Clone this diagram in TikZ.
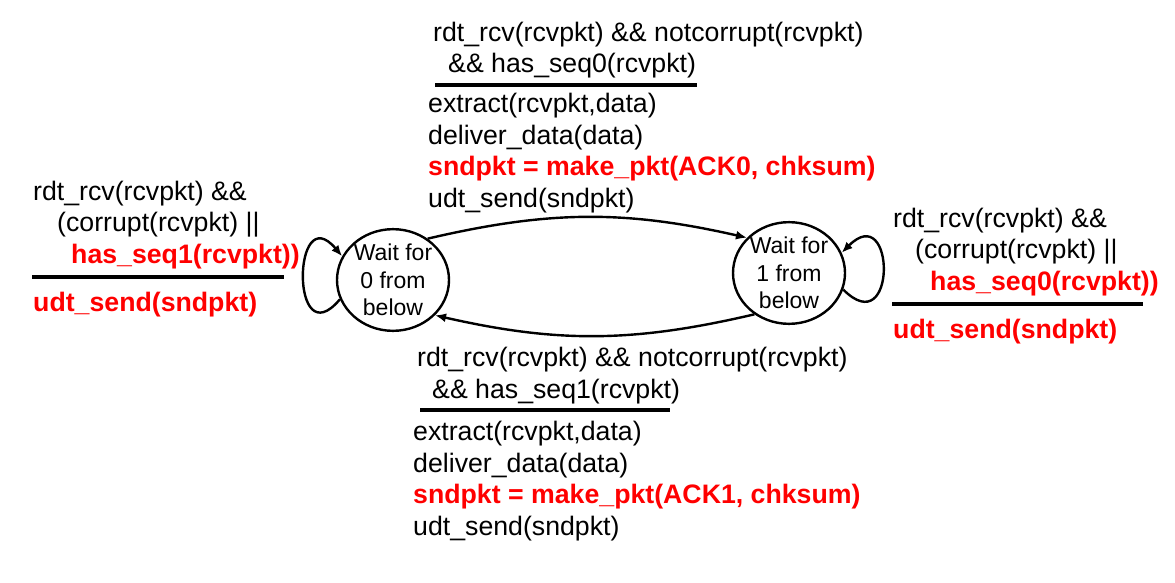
\documentclass[tikz,border=0pt]{standalone}
\usepackage{fontspec}
\setmainfont{Liberation Sans}
\usetikzlibrary{automata, arrows.meta, positioning, shapes.geometric}

\newcommand{\redtxt}[1]{\textcolor{red}{\bfseries #1}}

\begin{document}
\begin{tikzpicture} [
    x=1pt, y=1pt,
    every state/.style = {ellipse, line width=2.4pt,
        minimum width=112pt, minimum height=98pt, inner sep=0pt,
        align=center, font=\fontsize{23}{27.5}\selectfont},
    guard/.style = {anchor=base west, align=left, inner sep=0pt,
        font=\fontsize{26.7}{31.5}\selectfont},
    rule/.style = {line width=3.2pt}]
    \useasboundingbox (0,0) rectangle (1175,-583);
    % \draw [help lines] (0,0) grid (1175,-583);
    \node (s0) [state] at (393,-280) {Wait for\\0 from\\below};
    \node (s1) [state] at (789,-273) {Wait for\\1 from\\below};

    % s0 -> s1 (anchored at the last line)
    \node (g01) [guard] at (433,-73) {rdt\_rcv(rcvpkt) \&\& notcorrupt(rcvpkt)\\
        \hspace*{15pt}\&\& has\_seq0(rcvpkt)};
    \draw [rule] (435,-85) -- (697,-85);
    \node (a01) [guard] at (428,-207) {extract(rcvpkt,data)\\
        deliver\_data(data)\\
        \redtxt{sndpkt = make\_pkt(ACK0, chksum)}\\
        udt\_send(sndpkt)};

    % s1 -> s0
    \node (g10) [guard] at (417,-398) {rdt\_rcv(rcvpkt) \&\& notcorrupt(rcvpkt)\\
        \hspace*{15pt}\&\& has\_seq1(rcvpkt)};
    \draw [rule] (420,-410) -- (670,-410);
    \node (a10) [guard] at (413,-535) {extract(rcvpkt,data)\\
        deliver\_data(data)\\
        \redtxt{sndpkt = make\_pkt(ACK1, chksum)}\\
        udt\_send(sndpkt)};

    % s0 -> s0
    \node (g00) [guard] at (33,-263) {rdt\_rcv(rcvpkt) \&\&\\
        \hspace*{24pt}(corrupt(rcvpkt) ||\\
        \hspace*{38pt}\redtxt{has\_seq1(rcvpkt))}};
    \draw [rule] (32,-277) -- (284,-277);
    \node (a00) [guard] at (33,-311) {\redtxt{udt\_send(sndpkt)}};

    % s1 -> s1
    \node (g11) [guard] at (893,-290) {rdt\_rcv(rcvpkt) \&\&\\
        \hspace*{22pt}(corrupt(rcvpkt) ||\\
        \hspace*{37pt}\redtxt{has\_seq0(rcvpkt))}};
    \draw [rule] (892,-304) -- (1143,-304);
    \node (a11) [guard] at (893,-338) {\redtxt{udt\_send(sndpkt)}};

    \path [-{Latex[length=11pt,width=9pt]}, line width=2.4pt]
        (s0.50) edge [bend left=13] (s1.140)
        (s1.230) edge [bend left=13] (s0.-40)
        (s0.200) edge [out=230, in=130, looseness=4.6] (s0.155)
        (s1.-17) edge [out=-45, in=45, looseness=5.3] (s1.21);
\end{tikzpicture}
\end{document}
